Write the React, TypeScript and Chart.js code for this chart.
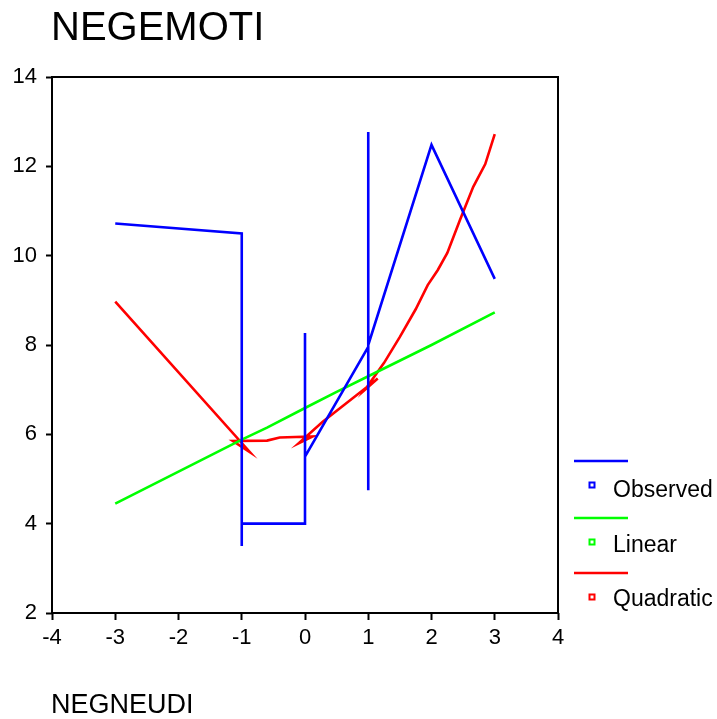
import React, { useEffect, useRef } from "react";
import { Chart, registerables } from "chart.js";

Chart.register(...registerables);

const TITLE = "NEGEMOTI";
const X_TITLE = "NEGNEUDI";

const observedX = [-3, -1, -1, -1, -1, 0, 0, 0, 1, 1, 1, 1, 2, 3];
const observedY = [10.72, 10.5, 4.0, 3.5, 4.0, 4.0, 8.27, 5.5, 7.96, 12.77, 4.75, 8.0, 12.48, 9.48];

const linearX = [-3, -1, -0.6, 0, 0.5, 1, 2, 3];
const linearY = [4.45, 5.88, 6.15, 6.59, 6.95, 7.3, 8.0, 8.73];

const quadX = [-3, -0.87, -1.14, -0.6, -0.4, 0.12, -0.1, 0.28, 0.98, 1.15, 0.95, 1.25, 1.5, 1.75, 1.94, 2.1, 2.25, 2.45, 2.66, 2.85, 3.0];
const quadY = [8.97, 5.6, 5.85, 5.86, 5.93, 5.95, 5.8, 6.28, 7.06, 7.25, 7.0, 7.6, 8.18, 8.8, 9.34, 9.68, 10.06, 10.8, 11.54, 12.05, 12.72];

const legendLabels = ["Observed", "Linear", "Quadratic"];
const seriesColors = ["#0000ff", "#00ff00", "#ff0000"];

const xTicks = [-4, -3, -2, -1, 0, 1, 2, 3, 4];
const yTicks = [2, 4, 6, 8, 10, 12, 14];

const FONT = "'Liberation Sans', Arial, sans-serif";

function pts(xs: number[], ys: number[]) {
  return xs.map((x, i) => ({ x, y: ys[i] }));
}

const decorPlugin = {
  id: "decor",
  afterDraw(chart: any) {
    const ctx = chart.ctx;
    const a = chart.chartArea;
    ctx.save();
    ctx.strokeStyle = "#000";
    ctx.lineWidth = 2;
    ctx.strokeRect(a.left, a.top, a.right - a.left, a.bottom - a.top);

    ctx.fillStyle = "#000";
    ctx.textAlign = "left";
    ctx.textBaseline = "middle";
    ctx.font = `40px ${FONT}`;
    ctx.fillText(TITLE, 51, 29);
    ctx.font = `27px ${FONT}`;
    ctx.fillText(X_TITLE, 51, 706);

    // legend
    const lineYs = [461, 518, 573];
    const boxYs = [485, 542, 597];
    const textYs = [491, 546, 600];
    legendLabels.forEach((lab, i) => {
      ctx.strokeStyle = seriesColors[i];
      ctx.lineWidth = 2.5;
      ctx.beginPath();
      ctx.moveTo(574, lineYs[i]);
      ctx.lineTo(628, lineYs[i]);
      ctx.stroke();
      ctx.lineWidth = 2;
      ctx.strokeRect(589.5, boxYs[i] - 2.5, 5, 5);
      ctx.fillStyle = "#000";
      ctx.font = `23px ${FONT}`;
      ctx.fillText(lab, 613, textYs[i]);
    });
    ctx.restore();
  },
};

export default function App() {
  const ref = useRef<HTMLCanvasElement | null>(null);
  useEffect(() => {
    if (!ref.current) return;
    const chart = new Chart(ref.current, {
      type: "scatter",
      data: {
        datasets: [
          { label: legendLabels[0], data: pts(observedX, observedY), showLine: true, borderColor: seriesColors[0], borderWidth: 2.6, pointRadius: 0, tension: 0 },
          { label: legendLabels[1], data: pts(linearX, linearY), showLine: true, borderColor: seriesColors[1], borderWidth: 2.6, pointRadius: 0, tension: 0 },
          { label: legendLabels[2], data: pts(quadX, quadY), showLine: true, borderColor: seriesColors[2], borderWidth: 2.6, pointRadius: 0, tension: 0 },
        ],
      },
      options: {
        responsive: false,
        animation: false,
        events: [],
        layout: { padding: { left: 0, right: 159, top: 77, bottom: 66 } },
        plugins: { legend: { display: false }, tooltip: { enabled: false }, title: { display: false } },
        scales: {
          x: {
            type: "linear",
            min: -4,
            max: 4,
            afterFit: (s: any) => { s.height = 40; },
            afterBuildTicks: (s: any) => { s.ticks = xTicks.map((v) => ({ value: v })); },
            border: { display: false },
            grid: { drawOnChartArea: false, drawTicks: true, tickLength: 7, color: "#000", tickColor: "#000", tickWidth: 2 },
            ticks: { color: "#000", font: { size: 22, family: FONT }, padding: 5, maxRotation: 0, autoSkip: false },
          },
          y: {
            type: "linear",
            min: 2,
            max: 14,
            afterFit: (s: any) => { s.width = 52; },
            afterBuildTicks: (s: any) => { s.ticks = yTicks.map((v) => ({ value: v })); },
            border: { display: false },
            grid: { drawOnChartArea: false, drawTicks: true, tickLength: 6, color: "#000", tickColor: "#000", tickWidth: 2 },
            ticks: { color: "#000", font: { size: 22, family: FONT }, padding: 9, autoSkip: false },
          },
        },
      },
      plugins: [decorPlugin],
    } as any);
    return () => chart.destroy();
  }, []);
  return (
    <div style={{ position: "fixed", left: 0, top: 0, width: 717, height: 719, background: "#fff" }}>
      <canvas ref={ref} width={717} height={719} style={{ display: "block" }} />
    </div>
  );
}
